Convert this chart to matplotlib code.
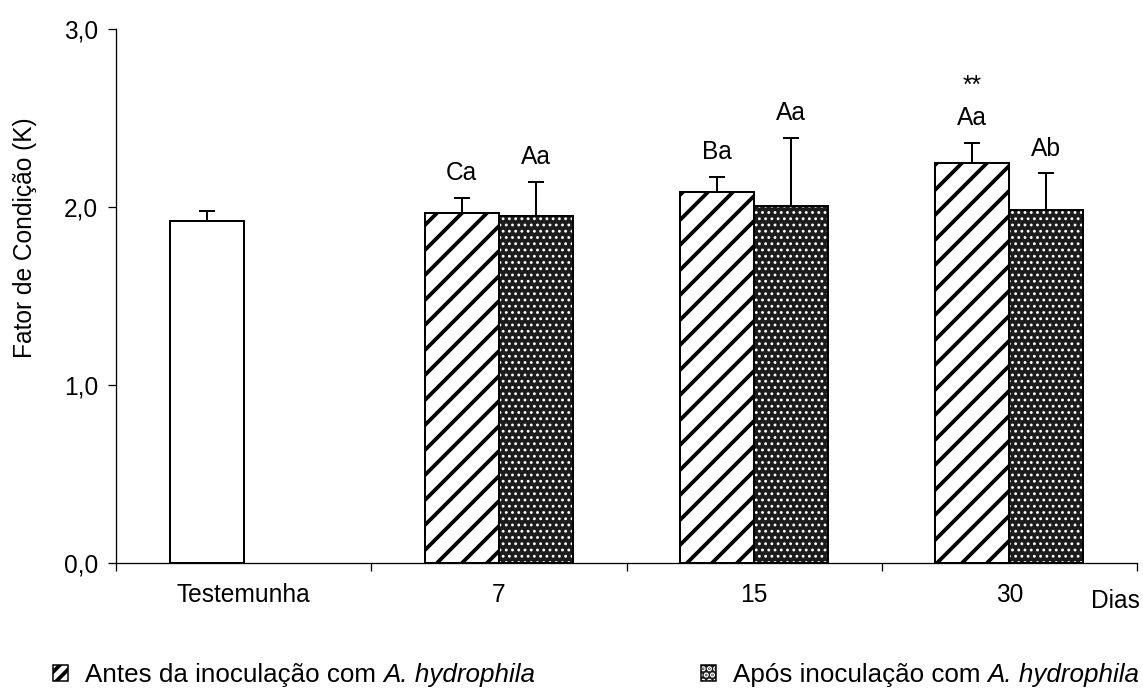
import matplotlib
matplotlib.use('Agg')
import matplotlib.pyplot as plt
from matplotlib.patches import Patch
import numpy as np

# ---- data ----
categories = ['Testemunha', '7', '15', '30']
control_value = 1.92
control_err = 0.055
before_values = [1.965, 2.086, 2.249]
before_err = [0.084, 0.081, 0.109]
after_values = [1.951, 2.006, 1.983]
after_err = [0.188, 0.383, 0.206]
before_letters = ['Ca', 'Ba', 'Aa']
after_letters = ['Aa', 'Aa', 'Ab']
before_marks = ['', '', '**']
yticks = [0, 1, 2, 3]
ytick_labels = ['0,0', '1,0', '2,0', '3,0']
ylabel = 'Fator de Condição (K)'
xlabel = 'Dias'
legend_labels = ['Antes da inoculação com', 'Após inoculação com']
legend_species = 'A. hydrophila'

# ---- style ----
DPI = 75
W, H = 1143, 693
def px(v):
    return v * 72.0 / DPI

plt.rcParams['font.family'] = ['Liberation Sans', 'DejaVu Sans']
plt.rcParams['hatch.linewidth'] = px(3.8)

FS = px(24.5)
LFS = px(26)
DOT_FACE = '#1c1c1c'

fig = plt.figure(figsize=(W / DPI, H / DPI), dpi=DPI)
ax = fig.add_axes([116 / W, (H - 563) / H, (1137 - 116) / W, (563 - 29) / H])

centers = np.arange(len(categories)) + 0.5
bw = 0.29
off = 0.145
xd = centers[1:]

def set_hlw(patches, lw):
    for p in patches:
        if hasattr(p, 'set_hatch_linewidth'):
            p.set_hatch_linewidth(lw)

# control bar
ax.bar(centers[0] - off, control_value, bw, color='white', edgecolor='black',
       linewidth=px(2), zorder=2)
# before (hatched)
hb = ax.bar(xd - off, before_values, bw, color='white', edgecolor='black',
            hatch='/', linewidth=px(2), zorder=2)
set_hlw(hb, px(3.8))
# after (dotted)
ab = ax.bar(xd + off, after_values, bw, color=DOT_FACE, edgecolor='white',
            hatch='..', linewidth=0, zorder=2)
set_hlw(ab, px(1.6))
ax.bar(xd + off, after_values, bw, fill=False, edgecolor='black',
       linewidth=px(2), zorder=2.1)

# error bars (upper only)
ekw = dict(fmt='none', ecolor='black', elinewidth=px(2), capsize=px(8),
           capthick=px(2), zorder=3)
ax.errorbar([centers[0] - off], [control_value], yerr=[[0], [control_err]], **ekw)
ax.errorbar(xd - off, before_values, yerr=[np.zeros(3), before_err], **ekw)
ax.errorbar(xd + off, after_values, yerr=[np.zeros(3), after_err], **ekw)

# letters
for i in range(3):
    yb = before_values[i] + before_err[i] + 0.1
    ax.text(xd[i] - off, yb, before_letters[i], ha='center', va='baseline', fontsize=FS)
    if before_marks[i]:
        ax.text(xd[i] - off, yb + 0.185, before_marks[i], ha='center', va='baseline', fontsize=FS)
    ya = after_values[i] + after_err[i] + 0.1
    ax.text(xd[i] + off, ya, after_letters[i], ha='center', va='baseline', fontsize=FS)

# axes
ax.set_xlim(0, 4)
ax.set_ylim(0, 3)
for s in ['top', 'right']:
    ax.spines[s].set_visible(False)
for s in ['left', 'bottom']:
    ax.spines[s].set_linewidth(px(1.3))
    ax.spines[s].set_zorder(4)
ax.set_xticks([0, 1, 2, 3, 4])
ax.set_xticklabels([])
ax.set_xticks(centers, minor=True)
ax.set_xticklabels(categories, minor=True)
ax.tick_params(axis='x', which='major', length=px(8), width=px(1.3), direction='out')
ax.tick_params(axis='x', which='minor', length=0, pad=px(20), labelsize=FS)
ax.set_yticks(yticks)
ax.set_yticklabels(ytick_labels)
ax.tick_params(axis='y', length=px(8), width=px(1.3), pad=px(10), labelsize=FS)

fig.text(25 / W, 1 - 238 / H, ylabel, rotation=90, ha='center', va='center', fontsize=FS)
fig.text(1140 / W, 1 - 608 / H, xlabel, ha='right', va='baseline', fontsize=FS)

# legends
h1 = Patch(facecolor='white', edgecolor='black', hatch='//', linewidth=px(1.5))
h2a = Patch(facecolor=DOT_FACE, edgecolor='white', hatch='..', linewidth=0)
h2b = Patch(facecolor='none', edgecolor='black', linewidth=px(1.5))
lkw = dict(loc='center left', frameon=False, borderpad=0, borderaxespad=0,
           handlelength=15 / 26.0, handleheight=15 / 26.0,
           handletextpad=17 / 26.0, fontsize=LFS)
leg1 = fig.legend([h1], [legend_labels[0]], bbox_to_anchor=(53 / W, 1 - 675 / H), **lkw)
leg2 = fig.legend([(h2a, h2b)], [legend_labels[1]], bbox_to_anchor=(701 / W, 1 - 675 / H), **lkw)

# italic species name appended after each legend label
fig.canvas.draw()
renderer = fig.canvas.get_renderer()
space_px = 0.278 * 26
for leg in (leg1, leg2):
    t = leg.get_texts()[0]
    bb = t.get_window_extent(renderer)
    fig.text((bb.x1 + space_px) / W, bb.y0 / H, legend_species, fontsize=LFS,
             fontstyle='italic', ha='left', va='bottom')

fig.savefig('out.png', dpi=DPI)
